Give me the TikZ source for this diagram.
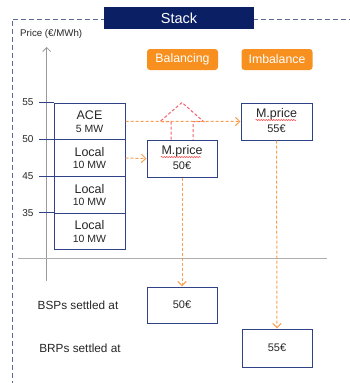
\documentclass[tikz,border=0pt]{standalone}
\usepackage{fontspec}
\setmainfont{Liberation Sans}
\usetikzlibrary{arrows.meta,decorations.pathmorphing,calc}
\definecolor{navy}{HTML}{0B1F65}
\definecolor{boxblue}{HTML}{2F4285}
\definecolor{frameblue}{HTML}{5A6A9A}
\definecolor{orng}{HTML}{F7901E}
\definecolor{lorng}{HTML}{F8A050}
\definecolor{redd}{HTML}{F25F68}
\definecolor{txt}{HTML}{262626}
\definecolor{axisgray}{HTML}{9A9A9A}
\begin{document}
\begin{tikzpicture}[x=1pt,y=-1pt,
 box/.style={draw=boxblue, line width=1pt, minimum width=71pt, minimum height=36.7pt, inner sep=0pt},
 tag/.style={fill=orng, rounded corners=3pt, minimum width=71pt, minimum height=21pt, text=white, font=\fontsize{12.3}{14}\selectfont, inner sep=0pt},
 flow/.style={lorng, line width=1pt, dash pattern=on 3pt off 2pt, -{Straight Barb[length=4.5pt,width=8.5pt]}},
 big/.style={text=txt, font=\fontsize{12.5}{14}\selectfont, inner sep=0pt},
 small/.style={text=txt, font=\fontsize{10.5}{12}\selectfont, inner sep=0pt},
 ticklbl/.style={text=txt, font=\fontsize{10}{12}\selectfont, inner sep=0pt},
 squig/.style={red!80, line width=0.5pt, decorate, decoration={snake, amplitude=0.6pt, segment length=2.5pt}}
]
\useasboundingbox (0,0) rectangle (350,383);
% frame
\draw[frameblue, line width=1pt, dash pattern=on 5pt off 3pt] (12,386) -- (12,19) -- (353,19);
\node[fill=navy, minimum width=150pt, minimum height=22pt, text=white, font=\fontsize{14.5}{16}\selectfont, inner sep=0pt] (stack) at (179,18) {Stack};
\node[ticklbl, font=\fontsize{9.7}{11}\selectfont, anchor=west] (pricelbl) at (20,33.5) {Price (€/MWh)};
% axes
\coordinate (axbot) at (46.7,281);
\coordinate (axtop) at (46.7,47);
\draw[axisgray, line width=0.8pt, -{Straight Barb[length=4pt,width=8pt]}] (axbot) -- (axtop);
\coordinate (hl) at (18,258);
\coordinate (hr) at (327,258);
\draw[axisgray!80, line width=0.8pt] (hl) -- (hr);
% stack
\node[box] (ace) at (89.5,121.35) {};
\node[box] (loc1) at (89.5,158.05) {};
\node[box] (loc2) at (89.5,194.75) {};
\node[box] (loc3) at (89.5,231.45) {};
\node[big] (acet) at ($(ace.center)+(0,-6.5)$) {ACE};
\node[small] (aces) at ($(ace.center)+(0,7.5)$) {5 MW};
\foreach \n in {loc1,loc2,loc3}{
 \node[big] (\n t) at ($(\n.center)+(0,-6)$) {Local};
 \node[small] (\n s) at ($(\n.center)+(0,7)$) {10 MW};
}
% ticks
\coordinate (t55) at (39,0 |- ace.north);
\coordinate (t50) at (39,0 |- loc1.north);
\coordinate (t45) at (39,0 |- loc2.north);
\coordinate (t35) at (39,0 |- loc3.north);
\draw[boxblue, line width=0.8pt] (t55) -- (ace.north west);
\draw[boxblue, line width=0.8pt] (t50) -- (loc1.north west);
\draw[boxblue, line width=0.8pt] (t45) -- (loc2.north west);
\draw[boxblue, line width=0.8pt] (t35) -- (loc3.north west);
\node[ticklbl] (l55) at ($(t55)+(-11,0)$) {55};
\node[ticklbl] (l50) at ($(t50)+(-11,0)$) {50};
\node[ticklbl] (l45) at ($(t45)+(-11,0)$) {45};
\node[ticklbl] (l35) at ($(t35)+(-11,0)$) {35};
% tags
\node[tag] (bal) at (182.5,59.5) {Balancing};
\node[tag] (imb) at (277,59.5) {Imbalance};
% price boxes
\node[box, minimum width=70pt, minimum height=37pt] (m50) at (182,158.5) {};
\node[box, minimum width=71pt, minimum height=37pt] (m55) at (276.5,121.5) {};
\node[big] (m50t) at ($(m50.center)+(0,-7.5)$) {M.price};
\node[small, font=\fontsize{11}{13}\selectfont] (m50v) at ($(m50.center)+(0,7.5)$) {50€};
\node[big] (m55t) at ($(m55.center)+(0,-7.5)$) {M.price};
\node[small, font=\fontsize{11}{13}\selectfont] (m55v) at ($(m55.center)+(0,7.5)$) {55€};
\draw[squig] ($(m50.center)+(-21,-1.5)$) -- ($(m50.center)+(19,-1.5)$);
\draw[squig] ($(m55.center)+(-21,-1.5)$) -- ($(m55.center)+(19.5,-1.5)$);
% settlement
\node[box, minimum width=70pt, minimum height=36pt] (s50) at (182,305) {};
\node[box, minimum width=70pt, minimum height=38pt] (s55) at (277,348) {};
\node[small, font=\fontsize{11}{13}\selectfont] (s50t) at (s50.center) {50€};
\node[small, font=\fontsize{11}{13}\selectfont] (s55t) at (s55.center) {55€};
\node[big, font=\fontsize{11.8}{14}\selectfont] (bsp) at (78,305) {BSPs settled at};
\node[big, font=\fontsize{11.8}{14}\selectfont] (brp) at (80,348) {BRPs settled at};
% red block arrow
\draw[redd, line width=1pt, dash pattern=on 3pt off 2pt]
 ($(m50.north)+(-11,0)$) -- ($(m50.north)+(-11,-18)$) -- ($(m50.north)+(-22,-18)$)
 -- ($(m50.north)+(0,-37)$) -- ($(m50.north)+(21.5,-18)$) -- ($(m50.north)+(11,-18)$)
 -- ($(m50.north)+(11,0)$);
% flows
\draw[flow] (ace.east) -- (m55.west);
\draw[flow] (loc1.east) -- (m50.west);
\draw[flow] (m50.south) -- (s50.north);
\draw[flow] (m55.south) -- (s55.north);
\end{tikzpicture}
\end{document}
